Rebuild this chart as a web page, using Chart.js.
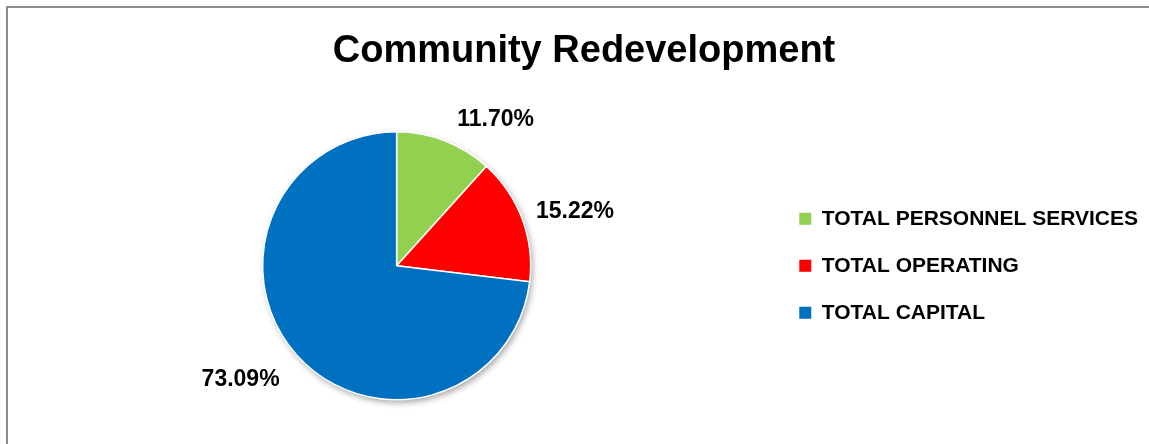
<!DOCTYPE html>
<html>
<head>
<meta charset="utf-8">
<script src="https://cdn.jsdelivr.net/npm/chart.js@4/dist/chart.umd.min.js"></script>
<style>
    body { margin: 0; background: #fff; }
    #frame { position: absolute; left: 6px; top: 6px; width: 1300px; height: 600px; border: 2px solid #8c8c8c; }
    #wrap { position: absolute; left: 0; top: 0; width: 1149px; height: 444px; }
</style>
</head>
<body>
<div id="frame"></div>
<div id="wrap"><canvas id="chart"></canvas></div>
<script>
var categories = ["TOTAL PERSONNEL SERVICES", "TOTAL OPERATING", "TOTAL CAPITAL"];
var shares = [11.70, 15.22, 73.09];
var sliceColors = ["#92D050", "#FF0000", "#0070C0"];
var chartTitle = "Community Redevelopment";

// small nudges so the outside labels sit where the original has them
var labelShift = [13, 3.5, 5.5];   // degrees, clockwise
var labelGap = [12, 12, 21];       // px beyond the rim

var FONT = "'Liberation Sans', Arial, sans-serif";

var pieShadow = {
    id: 'pieShadow',
    beforeDatasetsDraw: function (chart) {
        var arc = chart.getDatasetMeta(0).data[0];
        if (!arc) return;
        var ctx = chart.ctx;
        ctx.save();
        ctx.shadowColor = 'rgba(0,0,0,0.35)';
        ctx.shadowBlur = 6;
        ctx.shadowOffsetX = 2;
        ctx.shadowOffsetY = 3;
        ctx.fillStyle = '#ffffff';
        ctx.beginPath();
        ctx.arc(arc.x, arc.y, arc.outerRadius, 0, Math.PI * 2);
        ctx.fill();
        ctx.restore();
    }
};

var outsideLabels = {
    id: 'outsideLabels',
    afterDatasetsDraw: function (chart) {
        var ctx = chart.ctx;
        var meta = chart.getDatasetMeta(0);
        ctx.save();
        ctx.font = 'bold 23px ' + FONT;
        ctx.fillStyle = '#000';
        ctx.textAlign = 'center';
        ctx.textBaseline = 'middle';
        meta.data.forEach(function (arc, i) {
            var p = arc.getProps(['x', 'y', 'startAngle', 'endAngle', 'outerRadius'], true);
            var mid = (p.startAngle + p.endAngle) / 2 + labelShift[i] * Math.PI / 180;
            var txt = shares[i].toFixed(2) + '%';
            var w = ctx.measureText(txt).width;
            var c = Math.cos(mid), s = Math.sin(mid);
            var r = p.outerRadius + labelGap[i] + Math.abs(c) * w / 2 + Math.abs(s) * 11;
            ctx.fillText(txt, p.x + c * r, p.y + s * r);
        });
        ctx.restore();
    }
};

var legendGen = Chart.overrides.pie.plugins.legend.labels.generateLabels;

new Chart(document.getElementById('chart'), {
    type: 'pie',
    data: {
        labels: categories,
        datasets: [{
            data: shares,
            backgroundColor: sliceColors,
            borderColor: '#ffffff',
            borderWidth: 1.5,
            hoverOffset: 0
        }]
    },
    options: {
        responsive: true,
        maintainAspectRatio: false,
        animation: false,
        events: [],
        layout: { padding: { left: 20, right: 1, top: 0, bottom: 43.5 } },
        plugins: {
            tooltip: { enabled: false },
            title: {
                display: true,
                text: chartTitle,
                color: '#000',
                font: { family: FONT, size: 38, weight: 'bold', lineHeight: 1.2 },
                padding: { top: 28.7, bottom: 56.7 }
            },
            legend: {
                position: 'right',
                align: 'center',
                fullSize: false,
                labels: {
                    color: '#000',
                    font: { family: FONT, size: 21, weight: 'bold' },
                    boxWidth: 12,
                    boxHeight: 12,
                    padding: 26,
                    generateLabels: function (chart) {
                        return legendGen(chart).map(function (item) {
                            item.lineWidth = 0;
                            item.strokeStyle = item.fillStyle;
                            return item;
                        });
                    }
                }
            }
        }
    },
    plugins: [pieShadow, outsideLabels]
});
</script>
</body>
</html>
